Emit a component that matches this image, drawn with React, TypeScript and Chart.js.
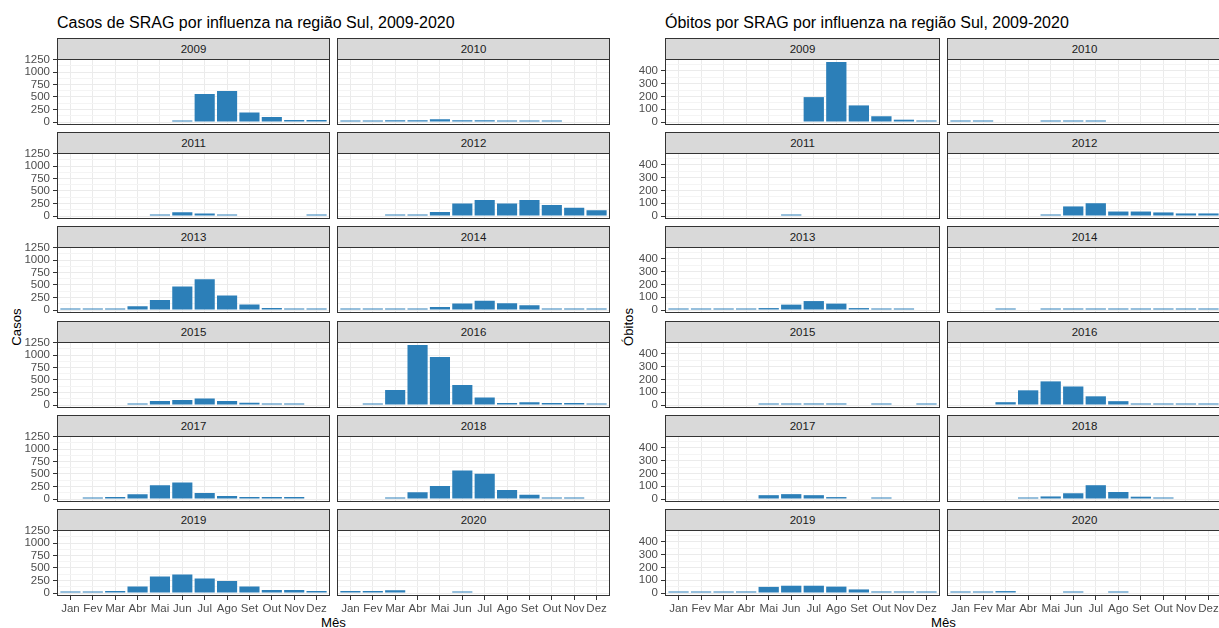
import React, { useEffect, useRef } from 'react';
import { Chart, registerables } from 'chart.js';

Chart.register(...registerables);

// ---------- data ----------
const months = ['Jan', 'Fev', 'Mar', 'Abr', 'Mai', 'Jun', 'Jul', 'Ago', 'Set', 'Out', 'Nov', 'Dez'];
const years = [2009, 2010, 2011, 2012, 2013, 2014, 2015, 2016, 2017, 2018, 2019, 2020];

const casos2009 = [null, null, null, null, null, 25, 560, 620, 190, 100, 40, 40];
const casos2010 = [15, 15, 35, 35, 55, 35, 35, 15, 15, 15, null, null];
const casos2011 = [null, null, null, null, 20, 75, 50, 15, null, null, null, 15];
const casos2012 = [null, null, 20, 20, 80, 250, 320, 250, 320, 220, 165, 115];
const casos2013 = [20, 20, 20, 75, 200, 470, 615, 290, 110, 40, 20, 20];
const casos2014 = [15, 15, 15, 15, 60, 130, 185, 135, 95, 15, 15, 15];
const casos2015 = [null, null, null, 15, 80, 100, 130, 80, 45, 20, 20, null];
const casos2016 = [null, 15, 300, 1200, 960, 400, 150, 40, 55, 40, 40, 15];
const casos2017 = [null, 20, 40, 95, 275, 330, 120, 60, 40, 40, 40, null];
const casos2018 = [null, null, 15, 135, 260, 570, 505, 180, 85, 15, 15, null];
const casos2019 = [20, 20, 40, 130, 330, 370, 290, 240, 130, 60, 60, 40];
const casos2020 = [40, 40, 55, null, null, 15, null, null, null, null, null, null];

const obitos2009 = [null, null, null, null, null, null, 195, 470, 130, 45, 18, 10];
const obitos2010 = [5, 5, null, null, 5, 5, 5, null, null, null, null, null];
const obitos2011 = [null, null, null, null, null, 8, null, null, null, null, null, null];
const obitos2012 = [null, null, null, null, 8, 75, 100, 35, 35, 28, 20, 20];
const obitos2013 = [5, 5, 5, 5, 15, 42, 70, 50, 15, 5, 5, null];
const obitos2014 = [null, null, 5, null, 5, 10, 10, 10, 10, 10, 5, 5];
const obitos2015 = [null, null, null, null, 5, 5, 12, 12, null, 5, null, 5];
const obitos2016 = [null, null, 22, 115, 185, 145, 68, 30, 5, 5, 5, 5];
const obitos2017 = [null, null, null, null, 30, 38, 30, 15, null, 5, null, null];
const obitos2018 = [null, null, null, 5, 20, 45, 108, 55, 18, 8, null, null];
const obitos2019 = [5, 5, 5, 12, 48, 57, 57, 50, 28, 12, 12, 5];
const obitos2020 = [6, 6, 15, null, null, 5, null, 5, null, null, null, null];

const casosSeries = [casos2009, casos2010, casos2011, casos2012, casos2013, casos2014, casos2015, casos2016, casos2017, casos2018, casos2019, casos2020];
const obitosSeries = [obitos2009, obitos2010, obitos2011, obitos2012, obitos2013, obitos2014, obitos2015, obitos2016, obitos2017, obitos2018, obitos2019, obitos2020];

const casosMajorTicks = [0, 250, 500, 750, 1000, 1250];
const casosMinorTicks = [125, 375, 625, 875, 1125];
const obitosMajorTicks = [0, 100, 200, 300, 400];
const obitosMinorTicks = [50, 150, 250, 350, 450];

// ---------- style ----------
const FONT = "'Liberation Sans', Arial, Helvetica, sans-serif";
const BAR_COLOR = '#2C7FB8';
const GRID_MAJOR = '#EBEBEB';
const GRID_MINOR = '#F4F4F4';
const TICK_MARK = '#333333';
const AXIS_TEXT = '#4D4D4D';
const STRIP_BG = '#D9D9D9';
const STRIP_TEXT = '#1A1A1A';
const BORDER = '#333333';

const PLOT_H = 66;
const STRIP_H = 21;
const ROW_TOPS = [59, 153, 247, 342, 436, 530];
const Y_AXIS_W = 52;
const X_AXIS_H = 22;
const PAD_T = 8;
const PAD_B = 8;
const X_MIN = -0.6;
const X_MAX = 11.6;

const panelBorder = {
  id: 'panelBorder',
  afterDraw(chart: any) {
    const { ctx, chartArea: a } = chart;
    ctx.save();
    ctx.strokeStyle = BORDER;
    ctx.lineWidth = 1;
    const l = Math.round(a.left) + 0.5;
    const t = Math.round(a.top) + 0.5;
    const r = Math.round(a.right) - 0.5;
    const b = Math.round(a.bottom) - 0.5;
    ctx.strokeRect(l, t, r - l, b - t);
    ctx.restore();
  },
};

function Facet({ left, top, width, values, yMin, yMax, majors, minors, showY, showX }: any) {
  const ref = useRef<HTMLCanvasElement | null>(null);
  const cw = width + (showY ? Y_AXIS_W : 0);
  const ch = PAD_T + PLOT_H + (showX ? X_AXIS_H : PAD_B);
  useEffect(() => {
    if (!ref.current) return;
    const allTicks = [...majors, ...minors].sort((a: number, b: number) => a - b);
    const isMajor = (v: number) => majors.includes(v);
    const chart = new Chart(ref.current, {
      type: 'bar',
      data: {
        datasets: [
          {
            data: values.map((v: number | null, i: number) => ({ x: i, y: v })),
            backgroundColor: BAR_COLOR,
            borderWidth: 0,
            barPercentage: 0.9,
            categoryPercentage: 1,
            minBarLength: 1.5,
          },
        ],
      },
      options: {
        animation: false,
        responsive: false,
        events: [],
        layout: { padding: { top: PAD_T, bottom: showX ? 0 : PAD_B, left: 0, right: 0 } },
        plugins: { legend: { display: false }, tooltip: { enabled: false }, title: { display: false } },
        scales: {
          x: {
            type: 'linear',
            min: X_MIN,
            max: X_MAX,
            bounds: 'data',
            offset: false,
            afterBuildTicks: (s: any) => {
              s.ticks = months.map((_, i) => ({ value: i }));
            },
            afterFit: (s: any) => {
              s.height = showX ? X_AXIS_H : 0;
              s.paddingLeft = 0;
              s.paddingRight = 0;
              s.paddingTop = 0;
              s.paddingBottom = 0;
            },
            grid: { offset: false, color: GRID_MAJOR, lineWidth: 1, drawTicks: showX, tickLength: 4, tickColor: TICK_MARK, tickWidth: 1 },
            border: { display: false },
            ticks: {
              display: showX,
              autoSkip: false,
              maxRotation: 0,
              minRotation: 0,
              padding: 2,
              color: AXIS_TEXT,
              font: { family: FONT, size: 11.5 },
              callback: (v: any) => months[v] ?? '',
            },
          },
          y: {
            type: 'linear',
            min: yMin,
            max: yMax,
            bounds: 'data',
            afterBuildTicks: (s: any) => {
              s.ticks = allTicks.map((v: number) => ({ value: v }));
            },
            afterFit: (s: any) => {
              s.width = showY ? Y_AXIS_W : 0;
              s.paddingLeft = 0;
              s.paddingRight = 0;
              s.paddingTop = 0;
              s.paddingBottom = 0;
            },
            grid: {
              color: (c: any) => (c.tick && isMajor(c.tick.value) ? GRID_MAJOR : GRID_MINOR),
              lineWidth: 1,
              drawTicks: showY,
              tickLength: 4,
              tickWidth: 1,
              tickColor: (c: any) => (c.tick && isMajor(c.tick.value) ? TICK_MARK : 'rgba(0,0,0,0)'),
            },
            border: { display: false },
            ticks: {
              display: showY,
              autoSkip: false,
              padding: 3,
              color: AXIS_TEXT,
              font: { family: FONT, size: 11.5 },
              callback: (v: any) => (isMajor(v) ? String(v) : ''),
            },
          },
        },
      } as any,
      plugins: [panelBorder],
    } as any);
    return () => chart.destroy();
  }, []);
  return (
    <canvas
      ref={ref}
      width={cw}
      height={ch}
      style={{
        position: 'absolute',
        left: left - (showY ? Y_AXIS_W : 0),
        top: top - PAD_T,
        width: cw,
        height: ch,
        display: 'block',
        zIndex: 1,
      }}
    />
  );
}

function Panel({ title, colLefts, colWidth, series, majors, minors, yTitle, yTitleX }: any) {
  let dataMax = 0;
  series.forEach((s: (number | null)[]) => s.forEach((v) => { if (v != null && v > dataMax) dataMax = v; }));
  const yMin = -0.05 * dataMax;
  const yMax = 1.05 * dataMax;
  const panelLeft = colLefts[0];
  const panelRight = colLefts[1] + colWidth;
  const xTitleCenter = (panelLeft + panelRight) / 2;
  return (
    <>
      <div
        style={{
          position: 'absolute', left: panelLeft, top: 15, fontFamily: FONT, fontSize: 16,
          lineHeight: '16px', color: '#000', whiteSpace: 'nowrap',
        }}
      >
        {title}
      </div>
      {years.map((yr, idx) => {
        const r = Math.floor(idx / 2);
        const c = idx % 2;
        const plotTop = ROW_TOPS[r];
        const left = colLefts[c];
        return (
          <React.Fragment key={yr}>
            <div
              style={{
                position: 'absolute', left, top: plotTop - STRIP_H, width: colWidth, height: STRIP_H + 1,
                boxSizing: 'border-box', background: STRIP_BG, border: `1px solid ${BORDER}`,
                display: 'flex', alignItems: 'center', justifyContent: 'center',
                fontFamily: FONT, fontSize: 11.5, color: STRIP_TEXT, zIndex: 2,
              }}
            >
              {yr}
            </div>
            <Facet
              left={left}
              top={plotTop}
              width={colWidth}
              values={series[idx]}
              yMin={yMin}
              yMax={yMax}
              majors={majors}
              minors={minors}
              showY={c === 0}
              showX={r === 5}
            />
          </React.Fragment>
        );
      })}
      <div
        style={{
          position: 'absolute', left: yTitleX, top: 327, fontFamily: FONT, fontSize: 13.2,
          lineHeight: '14px', color: '#000', whiteSpace: 'nowrap',
          transform: 'translate(-50%, -50%) rotate(-90deg)',
        }}
      >
        {yTitle}
      </div>
      <div
        style={{
          position: 'absolute', left: xTitleCenter, top: 616, fontFamily: FONT, fontSize: 13.2,
          lineHeight: '13px', color: '#000', whiteSpace: 'nowrap', transform: 'translateX(-50%)',
        }}
      >
        Mês
      </div>
    </>
  );
}

export default function App() {
  return (
    <div
      style={{
        position: 'fixed', left: 0, top: 0, width: 1219, height: 628,
        overflow: 'hidden', background: '#fff',
      }}
    >
      <Panel
        title="Casos de SRAG por influenza na região Sul, 2009-2020"
        colLefts={[57, 337]}
        colWidth={273}
        series={casosSeries}
        majors={casosMajorTicks}
        minors={casosMinorTicks}
        yTitle="Casos"
        yTitleX={17}
      />
      <Panel
        title="Óbitos por SRAG por influenza na região Sul, 2009-2020"
        colLefts={[665, 947]}
        colWidth={275}
        series={obitosSeries}
        majors={obitosMajorTicks}
        minors={obitosMinorTicks}
        yTitle="Óbitos"
        yTitleX={629}
      />
    </div>
  );
}
